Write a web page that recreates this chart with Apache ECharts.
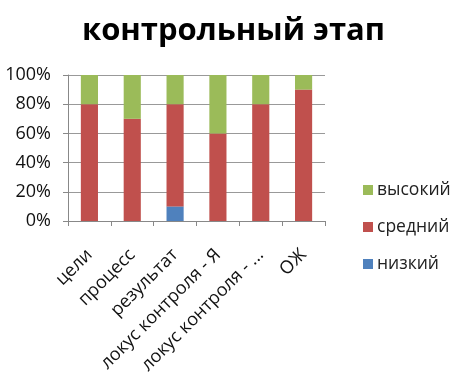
<!DOCTYPE html>
<html><head><meta charset="utf-8">
<script src="https://cdn.jsdelivr.net/npm/echarts@6/dist/echarts.min.js"></script>
<style>html,body{margin:0;padding:0;background:#fff}#c{width:467px;height:384px}</style>
</head><body><div id="c"></div>
<script>
const categories = ['цели', 'процесс', 'результат', 'локус контроля - Я', 'локус контроля - ...', 'ОЖ'];
const low = [0, 0, 10, 0, 0, 0];
const mid = [80, 70, 70, 60, 80, 90];
const high = [20, 30, 20, 40, 20, 10];
const yTicks = [0, 20, 40, 60, 80, 100];

const font = '"Open Sans", "Noto Sans", sans-serif';
const chart = echarts.init(document.getElementById('c'));
chart.setOption({
  animation: false,
  title: {
    text: 'контрольный этап', left: 'center', top: 11,
    textStyle: { fontFamily: font, fontSize: 31, fontWeight: 'bold', color: '#000' }
  },
  legend: {
    orient: 'vertical', left: 358, top: 175, itemGap: 17,
    itemWidth: 10, itemHeight: 10, icon: 'rect',
    data: ['высокий', 'средний', 'низкий'],
    textStyle: { fontFamily: font, fontSize: 17.5, lineHeight: 20, color: '#222', padding: [0, 0, 0, -1] }
  },
  grid: { left: 68, right: 142, top: 75, bottom: 163, containLabel: false },
  xAxis: {
    type: 'category', data: categories,
    axisLine: { lineStyle: { color: '#888' } },
    axisTick: { show: true, lineStyle: { color: '#888' } },
    axisLabel: { rotate: 45, interval: 0, fontFamily: font, fontSize: 18, color: '#111', margin: 31 }
  },
  yAxis: {
    type: 'value', min: 0, max: 100, interval: 20,
    axisLine: { show: true, lineStyle: { color: '#888' } },
    axisTick: { show: true, lineStyle: { color: '#888' } },
    splitLine: { lineStyle: { color: '#999' } },
    axisLabel: { fontFamily: font, fontSize: 18, color: '#111', margin: 17, formatter: v => yTicks.includes(v) ? v + '%' : '' }
  },
  series: [
    { name: 'низкий', type: 'bar', stack: 's', data: low, barWidth: '40%', itemStyle: { color: '#4F81BD' } },
    { name: 'средний', type: 'bar', stack: 's', data: mid, barWidth: '40%', itemStyle: { color: '#C0504D' } },
    { name: 'высокий', type: 'bar', stack: 's', data: high, barWidth: '40%', itemStyle: { color: '#9BBB59' } }
  ]
});
</script></body></html>
